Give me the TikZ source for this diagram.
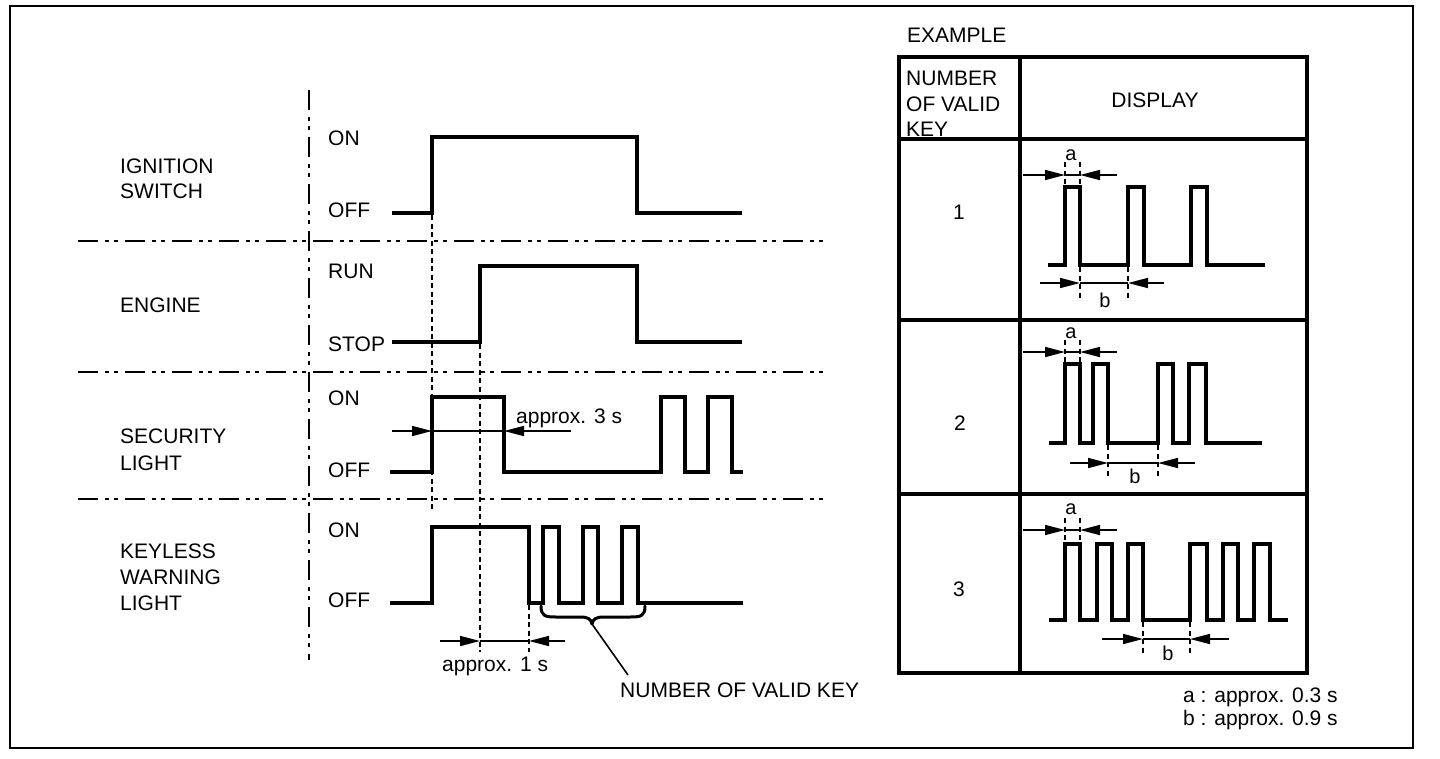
\documentclass[tikz,border=0pt]{standalone}
\usepackage{fontspec}
\setmainfont{Liberation Sans}
\usetikzlibrary{arrows.meta}
\begin{document}
\begin{tikzpicture}[x=1pt,y=-1pt,
  lbl/.style={font=\fontsize{21}{25}\selectfont, inner sep=0pt, anchor=base west},
  lblc/.style={font=\fontsize{21}{25}\selectfont, inner sep=0pt, anchor=base},
  wave/.style={line width=4pt, line join=miter},
  sepline/.style={line width=2pt, dash pattern=on 20pt off 7pt on 4pt off 5pt on 4pt off 7pt},
  guide/.style={line width=1.8pt, dash pattern=on 5pt off 3.5pt},
  dim/.style={line width=1.6pt},
  dimarrow/.style={dim, -{Triangle[length=20pt,width=10pt]}},
  frameline/.style={line width=2.5pt},
  tab/.style={line width=3.5pt},
]
\useasboundingbox (0,0) rectangle (1440,758);
% outer frame
\draw[frameline] (10,6) rectangle (1413,748);

% ---------------- left panel ----------------
\draw[sepline] (309,90) -- (309,660);
\foreach \yy in {241,372,499} \draw[sepline] (78,\yy) -- (825,\yy);

% row labels
\node[lbl] (ign1) at (120,173) {IGNITION};
\node[lbl] (ign2) at (120,198) {SWITCH};
\node[lbl] (eng) at (120,312) {ENGINE};
\node[lbl] (sec1) at (120,443) {SECURITY};
\node[lbl] (sec2) at (120,470) {LIGHT};
\node[lbl] (key1) at (120,558) {KEYLESS};
\node[lbl] (key2) at (120,584) {WARNING};
\node[lbl] (key3) at (120,610) {LIGHT};

\node[lbl] (ignon) at (328,145) {ON};
\node[lbl] (ignoff) at (328,217) {OFF};
\node[lbl] (engrun) at (328,278) {RUN};
\node[lbl] (engstop) at (328,351) {STOP};
\node[lbl] (secon) at (328,405) {ON};
\node[lbl] (secoff) at (328,477) {OFF};
\node[lbl] (keyon) at (328,537) {ON};
\node[lbl] (keyoff) at (328,607) {OFF};

% waveforms
\draw[wave] (392,213) -- (432,213) -- (432,137) -- (637,137) -- (637,213) -- (742,213);
\draw[wave] (392,342) -- (480,342) -- (480,266) -- (637,266) -- (637,342) -- (742,342);
\draw[wave] (390,472) -- (432,472) -- (432,397) -- (504,397) -- (504,472) -- (661,472)
  -- (661,397) -- (685,397) -- (685,472) -- (708,472) -- (708,397) -- (732,397) -- (732,472) -- (743,472);
\draw[wave] (390,603) -- (432,603) -- (432,527) -- (529,527) -- (529,603) -- (543,603)
  -- (543,527) -- (559,527) -- (559,603) -- (583,603) -- (583,527) -- (598,527) -- (598,603)
  -- (622,603) -- (622,527) -- (638,527) -- (638,603) -- (743,603);

% guide lines
\draw[guide] (432,215) -- (432,512);
\draw[guide] (480,344) -- (480,652);
\draw[guide] (529,605) -- (529,652);

% approx. 3 s
\coordinate (s3l) at (392,431);
\coordinate (s3a) at (432,431);
\coordinate (s3b) at (504,431);
\coordinate (s3r) at (571,431);
\draw[dimarrow] (s3l) -- (s3a);
\draw[dim] (s3a) -- (s3b);
\draw[dimarrow] (s3r) -- (s3b);
\node[lbl] (t3s) at (516,423) {approx. 3 s};

% approx. 1 s
\coordinate (s1l) at (440,641);
\coordinate (s1a) at (480,641);
\coordinate (s1b) at (529,641);
\coordinate (s1r) at (565,641);
\draw[dimarrow] (s1l) -- (s1a);
\draw[dim] (s1a) -- (s1b);
\draw[dimarrow] (s1r) -- (s1b);
\node[lbl] (t1s) at (442,671) {approx. 1 s};

% brace and leader
\coordinate (btip) at (592,624);
\draw[line width=3pt, line cap=round, line join=round]
  (541,606) .. controls (541,616) and (545,617) .. (556,617) -- (580,617)
  .. controls (588,617) and (591,619) .. (btip)
  .. controls (593,619) and (596,617) .. (604,617) -- (630,617)
  .. controls (641,617) and (645,616) .. (645,606);
\node[lbl] (nvk) at (620,697) {NUMBER OF VALID KEY};
\coordinate (nvkend) at (628,675);
\draw[line width=1.6pt] (btip) -- (nvkend);

% ---------------- right panel ----------------
\node[lbl] (ex) at (907,42) {EXAMPLE};
\draw[tab] (899,57) rectangle (1307,673);
\draw[tab] (1020,57) -- (1020,673);
\foreach \yy in {139,320,494} \draw[tab] (899,\yy) -- (1307,\yy);

\node[lbl] (h1) at (906,85) {NUMBER};
\node[lbl] (h2) at (906,111) {OF VALID};
\node[lbl] (h3) at (906,136) {KEY};
\node[lblc] (hd) at (1155,107) {DISPLAY};

\node[lblc] (n1) at (959,219) {1};
\node[lblc] (n2) at (960,430) {2};
\node[lblc] (n3) at (959,596) {3};

% row 1
\draw[wave] (1048,265) -- (1065,265) -- (1065,187) -- (1080,187) -- (1080,265) -- (1128,265)
  -- (1128,187) -- (1144,187) -- (1144,265) -- (1191,265) -- (1191,187) -- (1207,187) -- (1207,265) -- (1265,265);
\draw[guide] (1065,162) -- (1065,185);
\draw[guide] (1080,162) -- (1080,185);
\coordinate (a1l) at (1023,175); \coordinate (a1a) at (1065,175);
\coordinate (a1b) at (1080,175); \coordinate (a1r) at (1117,175);
\draw[dimarrow] (a1l) -- (a1a); \draw[dim] (a1a) -- (a1b); \draw[dimarrow] (a1r) -- (a1b);
\node[lblc, font=\fontsize{20}{24}\selectfont] (la1) at (1071,160) {a};
\draw[guide] (1080,267) -- (1080,298);
\draw[guide] (1128,267) -- (1128,298);
\coordinate (b1l) at (1040,283); \coordinate (b1a) at (1080,283);
\coordinate (b1b) at (1128,283); \coordinate (b1r) at (1164,283);
\draw[dimarrow] (b1l) -- (b1a); \draw[dim] (b1a) -- (b1b); \draw[dimarrow] (b1r) -- (b1b);
\node[lblc, font=\fontsize{20}{24}\selectfont] (lb1) at (1105,307) {b};

% row 2
\draw[wave] (1049,443) -- (1065,443) -- (1065,364) -- (1080,364) -- (1080,443) -- (1093,443)
  -- (1093,364) -- (1108,364) -- (1108,443) -- (1158,443) -- (1158,364) -- (1173,364) -- (1173,443)
  -- (1189,443) -- (1189,364) -- (1206,364) -- (1206,443) -- (1262,443);
\draw[guide] (1065,340) -- (1065,362);
\draw[guide] (1080,340) -- (1080,362);
\coordinate (a2l) at (1023,352); \coordinate (a2a) at (1065,352);
\coordinate (a2b) at (1080,352); \coordinate (a2r) at (1117,352);
\draw[dimarrow] (a2l) -- (a2a); \draw[dim] (a2a) -- (a2b); \draw[dimarrow] (a2r) -- (a2b);
\node[lblc, font=\fontsize{20}{24}\selectfont] (la2) at (1071,338) {a};
\draw[guide] (1108,445) -- (1108,477);
\draw[guide] (1158,445) -- (1158,477);
\coordinate (b2l) at (1070,463); \coordinate (b2a) at (1108,463);
\coordinate (b2b) at (1158,463); \coordinate (b2r) at (1195,463);
\draw[dimarrow] (b2l) -- (b2a); \draw[dim] (b2a) -- (b2b); \draw[dimarrow] (b2r) -- (b2b);
\node[lblc, font=\fontsize{20}{24}\selectfont] (lb2) at (1135,483) {b};

% row 3
\draw[wave] (1049,620) -- (1065,620) -- (1065,544) -- (1080,544) -- (1080,620) -- (1097,620)
  -- (1097,544) -- (1112,544) -- (1112,620) -- (1128,620) -- (1128,544) -- (1143,544) -- (1143,620)
  -- (1190,620) -- (1190,544) -- (1207,544) -- (1207,620) -- (1223,620) -- (1223,544) -- (1238,544)
  -- (1238,620) -- (1254,620) -- (1254,544) -- (1270,544) -- (1270,620) -- (1288,620);
\draw[guide] (1065,518) -- (1065,542);
\draw[guide] (1080,518) -- (1080,542);
\coordinate (a3l) at (1023,530); \coordinate (a3a) at (1065,530);
\coordinate (a3b) at (1080,530); \coordinate (a3r) at (1117,530);
\draw[dimarrow] (a3l) -- (a3a); \draw[dim] (a3a) -- (a3b); \draw[dimarrow] (a3r) -- (a3b);
\node[lblc, font=\fontsize{20}{24}\selectfont] (la3) at (1071,514) {a};
\draw[guide] (1143,622) -- (1143,654);
\draw[guide] (1190,622) -- (1190,654);
\coordinate (b3l) at (1102,639); \coordinate (b3a) at (1143,639);
\coordinate (b3b) at (1190,639); \coordinate (b3r) at (1229,639);
\draw[dimarrow] (b3l) -- (b3a); \draw[dim] (b3a) -- (b3b); \draw[dimarrow] (b3r) -- (b3b);
\node[lblc, font=\fontsize{20}{24}\selectfont] (lb3) at (1168,660) {b};

% footnote
\node[lbl] (fa) at (1183,702) {a : approx. 0.3 s};
\node[lbl] (fb) at (1183,725) {b : approx. 0.9 s};
\end{tikzpicture}
\end{document}
